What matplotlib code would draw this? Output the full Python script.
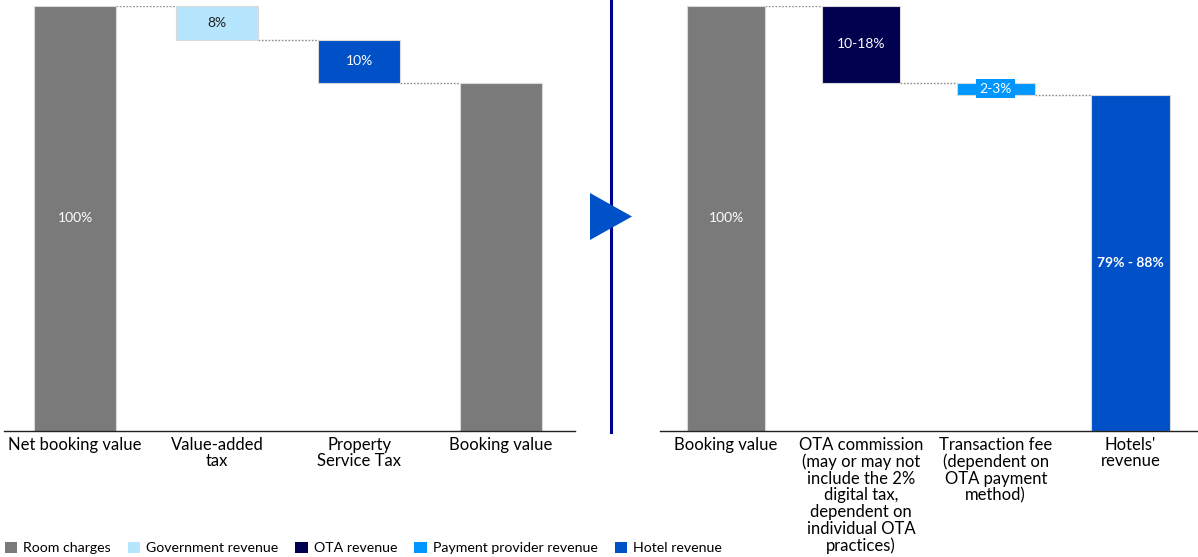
import matplotlib
matplotlib.use("Agg")
import matplotlib.pyplot as plt
from matplotlib.patches import Patch, Polygon
from matplotlib.lines import Line2D

plt.rcParams["font.family"] = ["Lato", "DejaVu Sans"]

# Left waterfall: from net booking value to booking value
left_labels = ["Net booking value", "Value-added\ntax", "Property\nService Tax", "Booking value"]
left_values = [100, 8, 10, 82]
left_text = ["100%", "8%", "10%", ""]

# Right waterfall: from booking value to hotels' revenue
right_labels = ["Booking value",
                "OTA commission\n(may or may not\ninclude the 2%\ndigital tax,\ndependent on\nindividual OTA\npractices)",
                "Transaction fee\n(dependent on\nOTA payment\nmethod)",
                "Hotels'\nrevenue"]
right_values = [100, 18, 3, 79]
right_text = ["100%", "10-18%", "2-3%", "79% - 88%"]

legend_labels = ["Room charges", "Government revenue", "OTA revenue",
                 "Payment provider revenue", "Hotel revenue"]

GRAY = "#7a7a7a"
GOV = "#b5e6fd"
OTA = "#00004f"
PAY = "#0096ff"
HOTEL = "#0050c8"
DIVIDER = "#000090"

W, H = 1198, 557
fig = plt.figure(figsize=(W / 100, H / 100), dpi=100)


def px_axes(x0, x1, ytop, ybot):
    return fig.add_axes([x0 / W, 1 - ybot / H, (x1 - x0) / W, (ybot - ytop) / H])


def waterfall(ax, values, colors, texts, text_colors, labels, bold_last=False, bbox_idx=None):
    # running levels: first and last bars stand on the axis, middle bars hang
    bottoms, tops = [], []
    level = values[0]
    for i, v in enumerate(values):
        if i == 0 or i == len(values) - 1:
            bottoms.append(0)
            tops.append(v)
        else:
            tops.append(level)
            bottoms.append(level - v)
            level -= v
    heights = [t - b for t, b in zip(tops, bottoms)]
    xs = list(range(len(values)))
    width = 0.58
    ax.bar(xs, heights, bottom=bottoms, width=width, color=colors,
           edgecolor="#d9d9d9", linewidth=0.8, zorder=2)
    # dotted connectors between neighbouring bars
    for i in range(len(values) - 1):
        lvl = tops[0] if i == 0 else bottoms[i]
        ax.plot([i + width / 2, i + 1 - width / 2], [lvl, lvl], color="#8c8c8c",
                linestyle=(0, (1.2, 1.2)), linewidth=1.0, zorder=1)
    for i, t in enumerate(texts):
        if not t:
            continue
        kw = {}
        if bbox_idx is not None and i == bbox_idx:
            kw["bbox"] = dict(boxstyle="square,pad=0.25", fc=colors[i], ec="none")
        weight = "bold" if (bold_last and i == len(texts) - 1) else "normal"
        ax.text(i, (tops[i] + bottoms[i]) / 2, t, ha="center", va="center",
                color=text_colors[i], fontsize=10, fontweight=weight, zorder=3, **kw)
    ax.set_ylim(0, 100)
    ax.set_xticks(xs)
    ax.set_xticklabels(labels, fontsize=12, linespacing=1.06, va="top")
    ax.tick_params(axis="x", length=0, pad=4)
    ax.set_yticks([])
    for s in ["top", "right", "left"]:
        ax.spines[s].set_visible(False)
    ax.spines["bottom"].set_color("#222222")
    ax.spines["bottom"].set_linewidth(1.0)


axl = px_axes(4, 575, 6, 431)
waterfall(axl, left_values, [GRAY, GOV, HOTEL, GRAY], left_text,
          ["white", "#222222", "white", "white"], left_labels)
axl.set_xlim(-0.5, 3.52)

axr = px_axes(660, 1198, 6, 431)
waterfall(axr, right_values, [GRAY, OTA, PAY, HOTEL], right_text,
          ["white", "white", "white", "white"], right_labels,
          bold_last=True, bbox_idx=2)
axr.set_xlim(-0.49, 3.5)

# divider and arrow between the two panels
fig.add_artist(Line2D([611 / W, 611 / W], [1 - 432 / H, 1.0], color=DIVIDER, linewidth=2.2))
tri = [(590, 193), (590, 240), (632, 216.5)]
fig.add_artist(Polygon([(x / W, 1 - y / H) for x, y in tri], closed=True,
                       facecolor=HOTEL, edgecolor="none", zorder=5))

handles = [Patch(facecolor=c, edgecolor="none") for c in [GRAY, GOV, OTA, PAY, HOTEL]]
fig.legend(handles, legend_labels, loc="lower left", bbox_to_anchor=(-0.002, -0.008),
           ncol=5, frameon=False, fontsize=10.2, handlelength=0.9, handleheight=0.9,
           handletextpad=0.4, columnspacing=1.2, borderaxespad=0.1)

fig.savefig("out.png", dpi=100)
